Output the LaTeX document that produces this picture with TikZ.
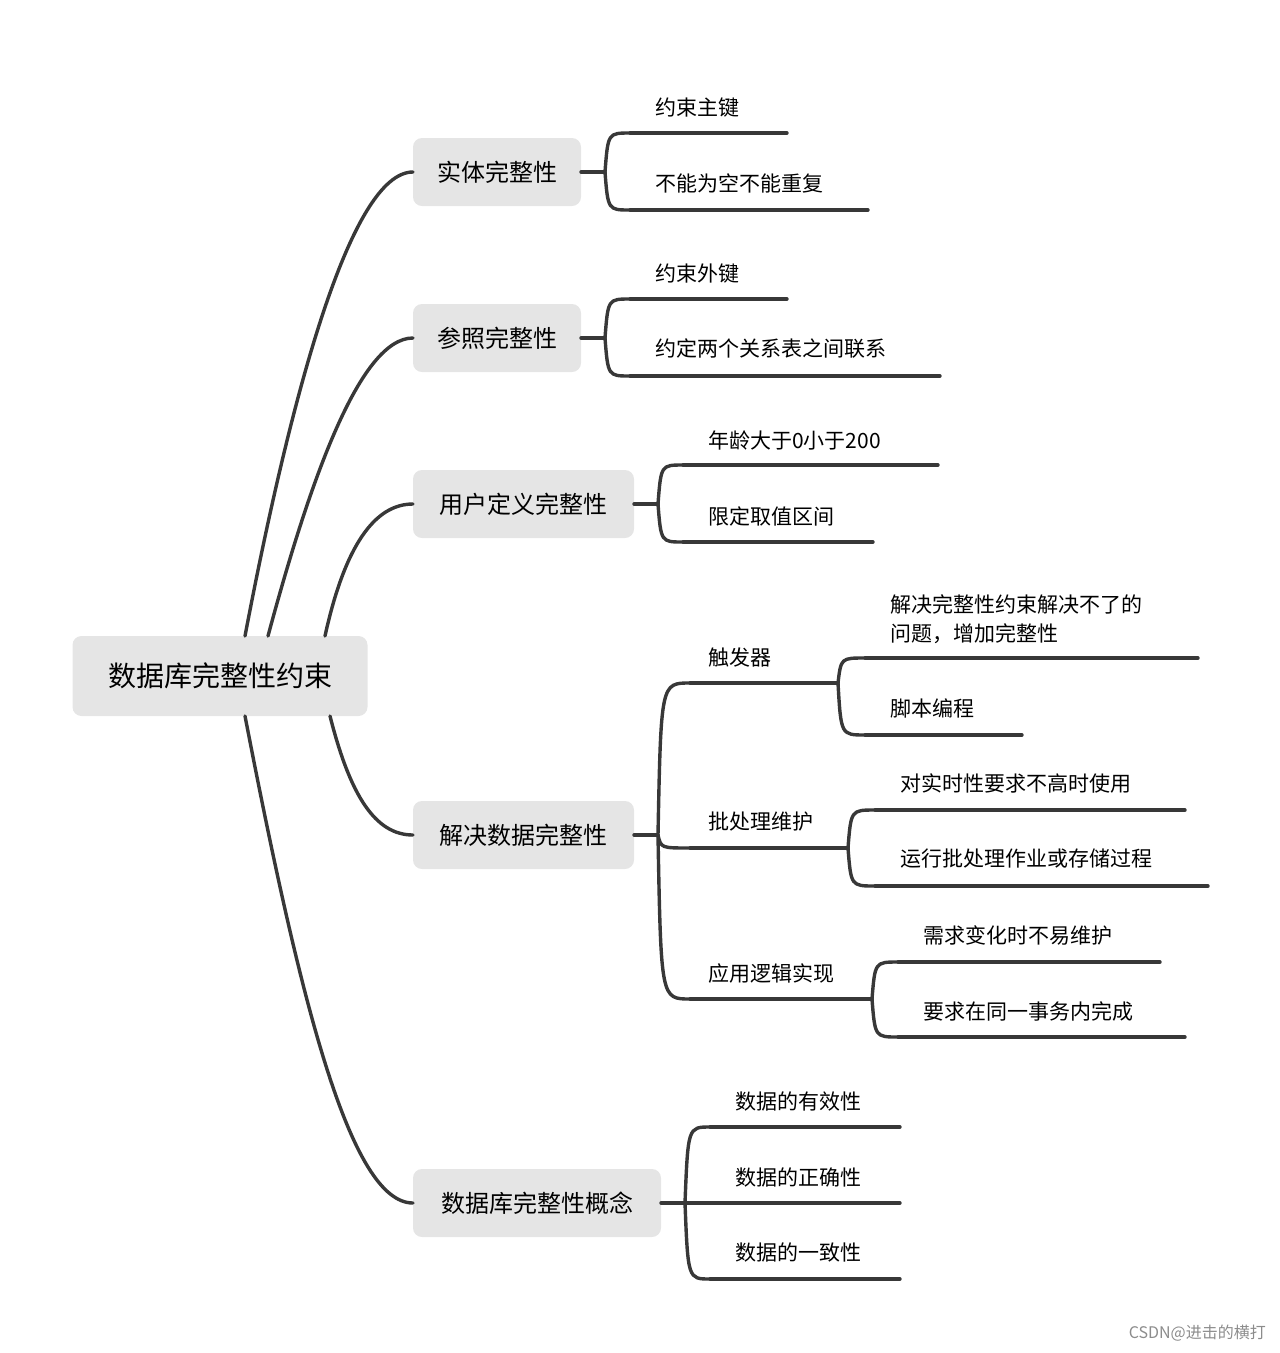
\documentclass[tikz,border=0pt]{standalone}
\usepackage{fontspec}
\setmainfont{Noto Sans CJK SC}
\begin{document}
\begin{tikzpicture}[x=1pt,y=-1pt,
  ln/.style={draw=black!78,line width=3.4pt,line cap=round},
  box/.style={fill=black!10,rounded corners=9pt,minimum height=68pt,inner sep=0pt,font=\fontsize{24}{28}\selectfont,anchor=center},
  lf/.style={anchor=west,font=\fontsize{21}{29}\selectfont,inner sep=0pt,align=left}]
\useasboundingbox (0,0) rectangle (1280,1353);
\newcommand\br[4]{\draw[ln] (#1,#2) .. controls ({#1+3},#4) .. (#3,#4);}
\newcommand\leaf[7]{\br{#1}{#2}{#3}{#4}\draw[ln] (#3,#4) -- (#5,#4);\node[lf] at (#6,#7) {#5x};}
% root
\node[box,minimum width=295pt,font=\fontsize{28}{32}\selectfont,minimum height=80pt] (root) at (220,676) {数据库完整性约束};
\node[box,minimum width=168pt] (a) at (497,172) {实体完整性};
\node[box,minimum width=168pt] (b) at (497,338) {参照完整性};
\node[box,minimum width=221pt] (c) at (523.5,504) {用户定义完整性};
\node[box,minimum width=221pt] (d) at (523.5,835) {解决数据完整性};
\node[box,minimum width=248pt] (e) at (537,1203) {数据库完整性概念};
\begin{scope}[on background layer/.style={}]
\end{scope}
\draw[ln] (245,636) .. controls (290,400) and (350,172) .. (413,172);
\draw[ln] (268,636) .. controls (310,480) and (360,338) .. (413,338);
\draw[ln] (325,636) .. controls (345,545) and (375,504) .. (413,504);
\draw[ln] (330,716) .. controls (350,795) and (375,835) .. (413,835);
\draw[ln] (245,716) .. controls (300,1000) and (350,1203) .. (413,1203);
% stubs
\draw[ln] (581,172) -- (605,172);
\draw[ln] (581,338) -- (605,338);
\draw[ln] (634,504) -- (658,504);
\draw[ln] (634,835) -- (658,835);
\draw[ln] (661,1203) -- (685,1203);
% leaves
\br{605}{172}{630}{133}\draw[ln] (630,133) -- (787,133);\node[lf] at (655,108) {约束主键};
\br{605}{172}{630}{210}\draw[ln] (630,210) -- (868,210);\node[lf] at (655,183) {不能为空不能重复};
\br{605}{338}{630}{299}\draw[ln] (630,299) -- (787,299);\node[lf] at (655,274) {约束外键};
\br{605}{338}{630}{376}\draw[ln] (630,376) -- (940,376);\node[lf] at (655,349) {约定两个关系表之间联系};
\br{658}{504}{683}{465}\draw[ln] (683,465) -- (938,465);\node[lf] at (708,440) {年龄大于0小于200};
\br{658}{504}{683}{542}\draw[ln] (683,542) -- (873,542);\node[lf] at (708,516) {限定取值区间};
\br{658}{835}{690}{683}\draw[ln] (690,683) -- (838,683);\node[lf] at (708,657) {触发器};
\br{658}{835}{690}{848}\draw[ln] (690,848) -- (848,848);\node[lf] at (708,822) {批处理维护};
\br{658}{835}{690}{999}\draw[ln] (690,999) -- (872,999);\node[lf] at (708,973) {应用逻辑实现};
\br{838}{683}{865}{658}\draw[ln] (865,658) -- (1198,658);\node[lf] at (890,619) {解决完整性约束解决不了的\\问题，增加完整性};
\br{838}{683}{865}{735}\draw[ln] (865,735) -- (1022,735);\node[lf] at (890,708) {脚本编程};
\br{848}{848}{875}{810}\draw[ln] (875,810) -- (1185,810);\node[lf] at (900,783) {对实时性要求不高时使用};
\br{848}{848}{875}{886}\draw[ln] (875,886) -- (1208,886);\node[lf] at (900,859) {运行批处理作业或存储过程};
\br{872}{999}{898}{962}\draw[ln] (898,962) -- (1160,962);\node[lf] at (923,935) {需求变化时不易维护};
\br{872}{999}{898}{1037}\draw[ln] (898,1037) -- (1185,1037);\node[lf] at (923,1011) {要求在同一事务内完成};
\br{685}{1203}{710}{1127}\draw[ln] (710,1127) -- (900,1127);\node[lf] at (735,1101) {数据的有效性};
\draw[ln] (685,1203) -- (900,1203);\node[lf] at (735,1177) {数据的正确性};
\br{685}{1203}{710}{1279}\draw[ln] (710,1279) -- (900,1279);\node[lf] at (735,1252) {数据的一致性};
\node[anchor=east,text=black!45,font=\fontsize{16}{18}\selectfont,inner sep=0pt] (wm) at (1266,1333) {CSDN@进击的横打};
\end{tikzpicture}
\end{document}
